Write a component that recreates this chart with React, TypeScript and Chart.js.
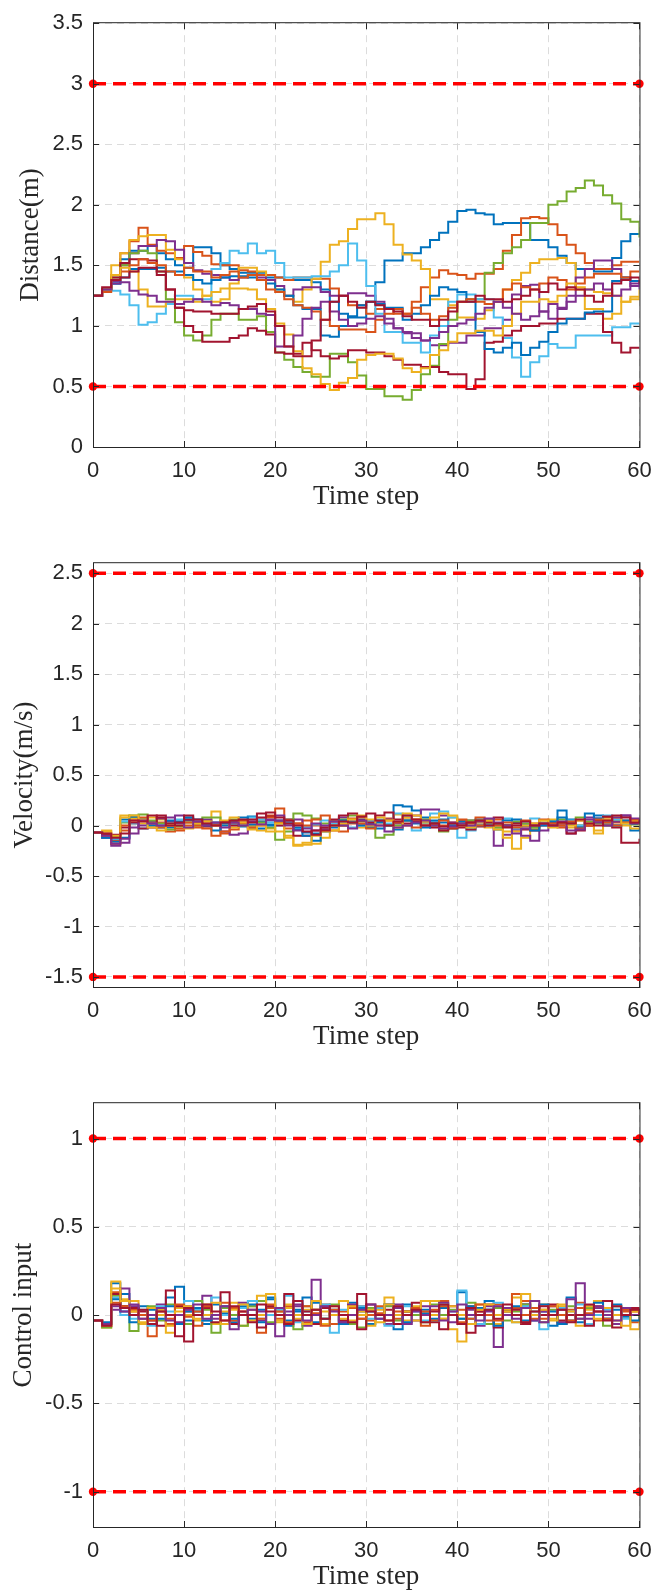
import React, { useEffect, useRef } from "react";
import { Chart, registerables } from "chart.js";

Chart.register(...registerables);

// ---------------- categories / ticks ----------------
const timeSteps = [
  0, 1, 2, 3, 4, 5, 6, 7, 8, 9, 10, 11, 12, 13, 14, 15, 16, 17, 18, 19, 20,
  21, 22, 23, 24, 25, 26, 27, 28, 29, 30, 31, 32, 33, 34, 35, 36, 37, 38, 39,
  40, 41, 42, 43, 44, 45, 46, 47, 48, 49, 50, 51, 52, 53, 54, 55, 56, 57, 58,
  59, 60,
];
const xTicks = [0, 10, 20, 30, 40, 50, 60];
const distanceTicks = [0, 0.5, 1, 1.5, 2, 2.5, 3, 3.5];
const velocityTicks = [-1.5, -1, -0.5, 0, 0.5, 1, 1.5, 2, 2.5];
const controlTicks = [-1, -0.5, 0, 0.5, 1];
const distanceBounds = [3, 0.5];
const velocityBounds = [2.5, -1.5];
const controlBounds = [1, -1];

// ---------------- colours ----------------
const cBlue = "#0072BD";
const cOrange = "#D95319";
const cYellow = "#EDB120";
const cPurple = "#7E2F8E";
const cGreen = "#77AC30";
const cLightBlue = "#4DBEEE";
const cDarkRed = "#A2142F";
const seriesColors = [cBlue, cOrange, cYellow, cPurple, cGreen, cLightBlue, cDarkRed, cBlue, cOrange, cYellow, cPurple, cDarkRed];

// ---------------- distance ----------------
const distBlue1 = [
  1.25, 1.3, 1.35, 1.55, 1.62, 1.62, 1.66, 1.6, 1.55, 1.5,
  1.48, 1.65, 1.65, 1.6, 1.5, 1.47, 1.44, 1.44, 1.44, 1.4,
  1.4, 1.38, 1.38, 1.38, 1.36, 1.3, 1.2, 1.1, 1.07, 1.07,
  1.2, 1.36, 1.54, 1.54, 1.6, 1.6, 1.65, 1.71, 1.77, 1.86,
  1.95, 1.96, 1.93, 1.92, 1.84, 1.85, 1.85, 1.85, 1.71, 1.71,
  1.65, 1.58, 1.52, 1.47, 1.47, 1.45, 1.45, 1.56, 1.7, 1.76,
  1.76,
];
const distOrange1 = [
  1.25, 1.3, 1.42, 1.6, 1.7, 1.81, 1.67, 1.62, 1.6, 1.56,
  1.66, 1.61, 1.58, 1.51, 1.5, 1.5, 1.46, 1.45, 1.42, 1.42,
  1.4, 1.38, 1.4, 1.4, 1.39, 1.39, 1.31, 1.25, 1.17, 1.17,
  1.1, 1.14, 1.14, 1.1, 1.1, 1.2, 1.32, 1.4, 1.46, 1.43,
  1.42, 1.39, 1.43, 1.43, 1.47, 1.62, 1.75, 1.89, 1.9, 1.89,
  1.84, 1.75, 1.67, 1.6, 1.52, 1.47, 1.47, 1.5, 1.53, 1.53,
  1.53,
];
const distYellow1 = [
  1.25, 1.3, 1.5, 1.6, 1.71, 1.74, 1.75, 1.75, 1.63, 1.55,
  1.4, 1.3, 1.25, 1.2, 1.22, 1.35, 1.48, 1.48, 1.45, 1.38,
  1.3, 1.25, 1.2, 1.3, 1.39, 1.53, 1.67, 1.7, 1.8, 1.88,
  1.88, 1.93, 1.84, 1.67, 1.59, 1.54, 1.47, 1.22, 1.22, 1.17,
  1.07, 1.07, 1.06, 1.13, 1.2, 1.3, 1.38, 1.44, 1.52, 1.55,
  1.55, 1.56, 1.52, 1.3, 1.14, 1.14, 1.06, 1.1, 1.2, 1.24,
  1.24,
];
const distPurple1 = [
  1.25, 1.3, 1.37, 1.5, 1.6, 1.66, 1.66, 1.71, 1.7, 1.63,
  1.52, 1.46, 1.43, 1.42, 1.4, 1.38, 1.4, 1.42, 1.4, 1.38,
  1.33, 1.25, 1.3, 1.32, 1.32, 1.28, 1.25, 1.25, 1.27, 1.27,
  1.25, 1.2, 1.06, 0.98, 0.94, 0.94, 0.88, 0.84, 0.84, 0.86,
  0.86, 0.92, 0.92, 0.98, 0.98, 1.05, 1.26, 1.33, 1.34, 1.12,
  1.06, 1.14, 1.25, 1.4, 1.47, 1.54, 1.54, 1.47, 1.4, 1.33,
  1.38,
];
const distGreen1 = [
  1.25, 1.3, 1.4, 1.5, 1.6, 1.62, 1.6, 1.45, 1.22, 1.03,
  0.92, 0.88, 0.92, 1.05, 1.1, 1.1, 1.05, 1.05, 1.08, 0.95,
  0.78, 0.72, 0.66, 0.62, 0.58, 0.58, 0.77, 0.77, 0.7, 0.59,
  0.48, 0.48, 0.42, 0.42, 0.39, 0.47, 0.6, 0.67, 0.85, 1.05,
  1.2, 1.22, 1.22, 1.44, 1.52, 1.6, 1.65, 1.71, 1.85, 1.85,
  2.0, 2.03, 2.11, 2.14, 2.2, 2.16, 2.08, 2.01, 1.88, 1.86,
  1.73,
];
const distLightBlue1 = [
  1.25, 1.29, 1.29, 1.26, 1.17, 1.01, 1.03, 1.1, 1.18, 1.25,
  1.25, 1.22, 1.22, 1.47, 1.52, 1.62, 1.6, 1.68, 1.6, 1.62,
  1.52, 1.4, 1.4, 1.4, 1.41, 1.41, 1.45, 1.5, 1.68, 1.54,
  1.33, 1.1, 0.95, 0.95, 0.86, 0.86, 0.78, 0.92, 1.0, 1.2,
  1.26, 1.26, 1.22, 1.22, 1.07, 0.9, 0.74, 0.58, 0.7, 0.75,
  0.85, 0.82, 0.82, 0.92, 0.92, 0.92, 0.92, 0.99, 0.99, 1.02,
  1.02,
];
const distDarkRed1 = [
  1.25, 1.3, 1.4, 1.52, 1.55, 1.55, 1.54, 1.42, 1.3, 1.15,
  1.0, 0.95, 0.87, 0.87, 0.87, 0.9, 0.92, 0.98, 0.96, 0.93,
  0.78, 0.77, 0.77, 0.86, 0.8, 0.75, 0.73, 0.75, 0.8, 0.8,
  0.78, 0.78, 0.75, 0.72, 0.68, 0.68, 0.66, 0.66, 0.62, 0.6,
  0.6, 0.48, 0.56, 0.86, 0.87, 0.92, 0.96, 1.0, 1.0, 1.02,
  1.02, 1.06, 1.06, 1.06, 1.1, 1.1, 0.95, 0.86, 0.78, 0.82,
  0.82,
];
const distBlue2 = [
  1.25, 1.3, 1.35, 1.4, 1.47, 1.47, 1.47, 1.48, 1.45, 1.45,
  1.42, 1.38, 1.35, 1.38, 1.4, 1.41, 1.41, 1.4, 1.38, 1.35,
  1.3, 1.25, 1.17, 1.14, 1.14, 0.92, 0.91, 1.0, 1.08, 1.17,
  1.2, 1.18, 1.15, 1.15, 1.05, 1.1, 1.17, 1.25, 1.32, 1.3,
  1.28, 1.2, 0.95, 0.81, 0.78, 0.82, 0.86, 0.76, 0.82, 0.87,
  0.95, 1.02, 1.06, 1.06, 1.11, 1.12, 1.12, 1.37, 1.4, 1.37,
  1.37,
];
const distOrange2 = [
  1.25, 1.28, 1.38, 1.45, 1.5, 1.55, 1.52, 1.5, 1.45, 1.42,
  1.48, 1.45, 1.45, 1.4, 1.42, 1.45, 1.4, 1.42, 1.38, 1.3,
  1.28, 1.22, 1.17, 1.15, 1.12, 1.05, 1.0, 0.97, 0.97, 0.97,
  0.95, 1.05, 1.1, 1.14, 1.1, 1.15, 1.1, 1.05, 1.08, 1.15,
  1.2, 1.22, 1.2, 1.18, 1.2, 1.3, 1.35, 1.32, 1.3, 1.35,
  1.4, 1.38, 1.3, 1.35, 1.4, 1.43, 1.43, 1.43, 1.4, 1.45,
  1.45,
];
const distYellow2 = [
  1.25, 1.3, 1.42, 1.48, 1.45, 1.3, 1.16, 1.16, 1.2, 1.22,
  1.22, 1.2, 1.25, 1.28, 1.31, 1.31, 1.31, 1.3, 1.22, 1.14,
  1.02, 0.93, 0.79, 0.65, 0.6, 0.52, 0.47, 0.53, 0.57, 0.72,
  0.76, 0.77, 0.77, 0.73, 0.65, 0.62, 0.65, 0.76, 0.8, 0.87,
  0.94, 0.94, 0.96, 0.96, 0.92, 1.0, 1.1, 1.2, 1.2, 1.22,
  1.2, 1.25, 1.35, 1.32, 1.3, 1.28, 1.27, 1.25, 1.2, 1.22,
  1.3,
];
const distPurple2 = [
  1.25, 1.3, 1.35, 1.36, 1.29, 1.26, 1.25, 1.2, 1.2, 1.18,
  1.2, 1.22, 1.2, 1.17, 1.19, 1.17, 1.14, 1.14, 1.1, 1.09,
  0.83, 0.83, 0.92, 1.06, 1.15, 1.2, 1.12, 1.05, 1.0, 1.02,
  1.06, 1.08, 1.02, 0.98, 0.95, 0.9, 0.88, 0.9, 0.95, 1.0,
  1.02, 1.05, 1.1, 1.15, 1.2, 1.15, 1.1, 1.05, 1.08, 1.12,
  1.18, 1.15, 1.2, 1.25, 1.3, 1.35, 1.3, 1.25, 1.3, 1.35,
  1.3,
];
const distDarkRed2 = [
  1.25, 1.32, 1.38, 1.4, 1.45, 1.48, 1.48, 1.45, 1.3, 1.15,
  1.13, 1.12, 1.12, 1.1, 1.1, 1.1, 1.14, 1.16, 1.18, 1.12,
  1.0, 0.83, 0.75, 0.75, 0.88, 1.05, 1.2, 1.25, 1.2, 1.15,
  1.2, 1.17, 1.14, 1.12, 1.08, 1.05, 1.05, 1.0, 1.05, 1.12,
  1.2, 1.2, 1.25, 1.22, 1.22, 1.2, 1.22, 1.25, 1.3, 1.28,
  1.35, 1.3, 1.32, 1.3, 1.25, 1.2, 1.25, 1.35, 1.38, 1.4,
  1.35,
];

// ---------------- velocity ----------------
const velBlue1 = [
  -0.07, -0.1, -0.14, 0.06, 0.08, 0.05, 0.02, 0.0, -0.02, 0.03,
  0.05, 0.02, 0.01, 0.03, 0.0, 0.02, -0.01, 0.09, 0.04, 0.01,
  0.04, 0.06, -0.02, -0.07, -0.08, -0.04, -0.02, 0.0, 0.04, 0.06,
  0.02, -0.03, 0.0, 0.2, 0.19, 0.15, 0.08, 0.05, 0.03, 0.0,
  0.02, 0.04, 0.06, 0.01, -0.04, 0.0, 0.03, 0.0, -0.02, 0.01,
  0.03, 0.15, 0.06, 0.0, 0.03, 0.1, 0.05, 0.0, 0.02, -0.05,
  -0.02,
];
const velOrange1 = [
  -0.07, -0.08, -0.15, -0.05, 0.02, 0.06, 0.04, 0.03, -0.06, -0.05,
  0.0, -0.02, 0.02, 0.0, -0.08, -0.04, 0.02, 0.04, 0.06, 0.1,
  0.17, 0.06, 0.02, 0.05, 0.0, -0.02, -0.05, -0.06, 0.02, 0.08,
  0.05, 0.04, 0.07, 0.03, 0.08, 0.06, 0.04, 0.02, 0.0, 0.03,
  0.05, 0.02, 0.08, 0.04, 0.06, 0.0, -0.04, -0.01, 0.0, 0.02,
  0.0, -0.02, 0.03, 0.05, 0.0, 0.04, 0.08, 0.03, 0.05, 0.06,
  0.02,
];
const velYellow1 = [
  -0.07, -0.06, -0.12, 0.1, 0.07, 0.02, 0.08, 0.06, 0.03, 0.0,
  -0.02, 0.03, 0.05, 0.14, 0.02, -0.02, 0.03, 0.0, -0.05, -0.03,
  -0.06, -0.1, -0.19, -0.19, -0.18, -0.12, -0.05, 0.0, 0.03, -0.02,
  0.06, 0.03, 0.0, 0.11, 0.08, 0.06, 0.02, 0.0, -0.04, 0.08,
  0.03, 0.0, 0.05, -0.02, 0.0, -0.06, -0.23, -0.12, -0.04, 0.02,
  0.06, 0.03, -0.02, 0.0, 0.03, -0.08, 0.01, 0.05, 0.0, -0.03,
  -0.02,
];
const velPurple1 = [
  -0.07, -0.12, -0.2, -0.17, -0.08, 0.0, 0.04, 0.07, 0.04, 0.1,
  0.06, 0.02, 0.06, 0.0, -0.06, -0.09, -0.08, -0.03, 0.01, 0.05,
  0.1, 0.04, 0.06, -0.02, -0.05, -0.04, 0.02, 0.08, 0.06, 0.01,
  -0.02, 0.04, 0.06, 0.02, 0.05, 0.1, 0.16, 0.16, 0.1, 0.03,
  0.0, 0.05, 0.03, 0.0, -0.2, -0.09, -0.04, -0.1, -0.15, -0.05,
  0.02, 0.0, -0.08, -0.02, 0.08, 0.07, 0.0, 0.04, 0.1, 0.07,
  0.04,
];
const velGreen1 = [
  -0.07, -0.09, -0.11, 0.03, 0.1, 0.11, 0.05, 0.02, -0.04, -0.01,
  0.03, 0.0, 0.08, 0.08, 0.03, 0.06, 0.0, -0.02, 0.03, -0.02,
  -0.14, -0.06, 0.12, 0.1, 0.07, 0.02, 0.05, 0.06, 0.1, 0.04,
  -0.02, -0.12, -0.09, 0.0, 0.05, 0.03, 0.06, 0.0, -0.06, -0.03,
  0.02, 0.05, 0.0, 0.03, -0.02, 0.0, 0.04, 0.02, -0.02, 0.05,
  0.04, 0.06, 0.02, 0.08, 0.04, 0.02, 0.0, 0.06, 0.03, 0.01,
  0.02,
];
const velLightBlue1 = [
  -0.07, -0.11, -0.13, 0.04, 0.02, -0.03, 0.01, 0.0, 0.02, 0.06,
  0.08, 0.03, 0.0, 0.02, 0.04, 0.01, 0.05, 0.08, 0.06, 0.03,
  0.0, 0.03, -0.04, -0.02, 0.01, 0.05, 0.02, 0.03, -0.02, 0.0,
  0.04, 0.06, 0.02, 0.12, 0.1, -0.05, 0.03, 0.12, 0.14, 0.08,
  -0.12, -0.05, 0.03, 0.0, 0.02, 0.07, -0.03, 0.04, 0.07, 0.02,
  -0.01, 0.03, 0.05, 0.0, 0.02, 0.05, 0.1, 0.06, 0.02, 0.03,
  0.04,
];
const velDarkRed1 = [
  -0.07, -0.09, -0.09, -0.02, 0.03, -0.03, -0.02, 0.1, 0.02, 0.0,
  0.06, 0.03, -0.01, 0.01, 0.04, 0.0, 0.03, 0.06, 0.12, 0.09,
  0.0, 0.05, -0.1, -0.1, -0.05, -0.02, 0.06, 0.1, 0.12, 0.05,
  0.03, 0.1, 0.13, 0.06, 0.02, 0.04, 0.0, -0.02, -0.05, -0.03,
  -0.02, -0.04, -0.01, 0.03, 0.08, 0.0, 0.02, -0.04, -0.05, 0.0,
  0.03, 0.02, -0.08, -0.05, 0.0, 0.05, 0.09, -0.02, -0.17, -0.17,
  -0.13,
];
const velBlue2 = [
  -0.07, -0.12, -0.16, -0.12, 0.09, 0.07, 0.0, -0.02, 0.05, 0.04,
  0.08, 0.06, 0.0, -0.05, 0.02, 0.04, 0.08, 0.01, -0.03, 0.0,
  0.05, 0.02, -0.04, -0.1, -0.15, -0.06, 0.0, 0.05, 0.03, 0.0,
  -0.02, 0.03, 0.0, -0.04, 0.05, 0.02, -0.02, 0.03, 0.06, 0.0,
  0.04, -0.02, 0.0, 0.06, 0.02, 0.05, 0.06, 0.0, -0.05, 0.0,
  0.04, 0.08, 0.02, -0.02, 0.12, 0.07, 0.03, 0.0, 0.05, 0.02,
  0.02,
];
const velOrange2 = [
  -0.07, -0.1, -0.18, 0.0, 0.05, 0.08, 0.02, -0.02, 0.0, -0.03,
  0.03, 0.0, -0.03, -0.1, -0.06, 0.03, 0.05, -0.02, 0.0, 0.08,
  0.03, -0.03, 0.02, 0.0, 0.06, 0.1, 0.04, 0.0, 0.07, 0.02,
  -0.03, 0.0, 0.05, 0.03, 0.0, -0.02, 0.04, 0.02, 0.05, -0.02,
  0.06, 0.03, 0.0, 0.05, 0.0, 0.03, -0.02, 0.05, 0.02, 0.06,
  0.02, 0.0, 0.04, -0.03, 0.0, 0.06, 0.03, 0.0, 0.03, 0.05,
  0.03,
];
const velYellow2 = [
  -0.07, -0.05, -0.1, 0.08, 0.1, 0.06, -0.02, -0.05, 0.0, 0.02,
  -0.03, 0.02, 0.04, 0.0, 0.05, 0.08, 0.03, -0.04, 0.0, -0.06,
  0.02, -0.12, -0.2, -0.17, -0.1, -0.06, 0.0, 0.02, 0.06, 0.1,
  0.0, 0.08, 0.05, -0.02, 0.12, 0.1, 0.04, 0.08, 0.12, 0.1,
  0.0, -0.02, 0.03, 0.05, -0.04, -0.12, -0.06, 0.0, 0.02, 0.05,
  -0.02, 0.03, 0.0, 0.05, 0.02, -0.05, 0.06, 0.08, 0.02, 0.04,
  0.0,
];
const velPurple2 = [
  -0.07, -0.1, -0.18, -0.13, -0.02, 0.05, 0.02, 0.0, 0.08, 0.02,
  -0.02, 0.04, 0.0, 0.03, -0.02, 0.03, 0.0, 0.04, 0.01, 0.06,
  0.05, 0.0, -0.05, -0.03, 0.02, 0.0, 0.04, 0.0, -0.03, 0.05,
  0.01, 0.0, -0.06, -0.02, 0.0, 0.03, 0.05, 0.0, -0.03, -0.01,
  0.02, 0.0, 0.04, 0.07, 0.03, 0.0, -0.08, -0.03, 0.0, 0.02,
  0.0, 0.04, -0.05, -0.04, 0.06, 0.03, 0.0, 0.08, 0.1, 0.02,
  0.06,
];
const velDarkRed2 = [
  -0.07, -0.08, -0.12, -0.08, 0.05, 0.04, 0.1, 0.08, 0.0, 0.03,
  0.1, 0.06, 0.02, 0.0, 0.03, 0.05, 0.06, 0.03, 0.08, 0.13,
  0.08, 0.02, 0.0, -0.06, -0.09, -0.05, 0.0, 0.04, 0.03, 0.09,
  0.12, 0.05, 0.0, 0.04, 0.1, 0.06, 0.0, 0.02, -0.01, 0.02,
  0.0, 0.03, 0.05, 0.0, 0.02, -0.02, 0.0, 0.04, 0.0, 0.02,
  0.0, 0.03, 0.02, 0.06, 0.02, 0.0, 0.05, 0.1, 0.08, 0.03,
  0.05,
];

// ---------------- control input ----------------
const ctrlBlue1 = [
  -0.03, -0.05, 0.18, 0.12, 0.0, 0.05, -0.02, 0.03, 0.1, 0.16,
  -0.03, 0.02, -0.05, 0.06, 0.01, -0.04, 0.05, -0.02, 0.03, 0.09,
  0.0, -0.06, 0.03, 0.1, -0.04, 0.05, 0.0, -0.03, 0.07, 0.02,
  -0.05, 0.04, 0.0, -0.08, 0.06, 0.0, 0.03, -0.02, 0.05, 0.0,
  0.13, -0.02, 0.04, 0.08, -0.05, 0.03, 0.0, 0.06, -0.03, 0.02,
  -0.06, 0.04, 0.1, -0.04, 0.05, 0.0, -0.02, 0.06, -0.01, 0.03,
  0.02,
];
const ctrlOrange1 = [
  -0.03, -0.06, 0.13, 0.04, 0.03, -0.02, -0.12, 0.02, -0.05, 0.05,
  0.02, -0.06, 0.04, 0.0, 0.07, -0.03, 0.02, 0.0, -0.1, 0.04,
  -0.02, 0.05, 0.0, -0.04, 0.03, 0.06, -0.05, 0.02, 0.0, 0.05,
  -0.03, 0.01, 0.06, -0.02, 0.0, 0.04, -0.06, 0.03, 0.08, 0.0,
  -0.04, 0.05, 0.02, -0.03, 0.06, 0.0, 0.04, 0.08, -0.02, 0.03,
  0.0, -0.05, 0.03, 0.07, 0.0, -0.03, 0.04, 0.0, 0.02, -0.04,
  0.0,
];
const ctrlYellow1 = [
  -0.03, -0.07, 0.19, 0.09, 0.08, -0.05, 0.0, 0.03, -0.1, 0.04,
  0.0, -0.03, 0.06, -0.05, 0.02, 0.07, -0.06, 0.05, 0.11, 0.0,
  -0.04, 0.06, -0.02, 0.03, 0.0, -0.05, 0.05, 0.08, -0.03, 0.02,
  -0.06, 0.03, 0.1, 0.0, -0.03, 0.05, 0.0, 0.08, -0.02, -0.08,
  -0.15, 0.04, 0.06, 0.0, -0.05, 0.03, 0.1, -0.04, 0.02, 0.06,
  -0.02, 0.05, 0.0, -0.06, 0.03, 0.08, 0.0, -0.03, 0.04, -0.08,
  0.0,
];
const ctrlPurple1 = [
  -0.03, -0.05, 0.03, 0.15, 0.05, 0.0, -0.03, 0.06, 0.0, -0.04,
  0.05, 0.0, 0.11, -0.02, 0.04, -0.05, 0.07, 0.0, -0.03, 0.05,
  -0.12, 0.02, 0.05, -0.06, 0.2, 0.04, 0.0, -0.04, 0.06, -0.02,
  0.03, 0.0, -0.05, 0.06, 0.02, -0.03, 0.05, 0.0, 0.07, -0.04,
  0.0, 0.03, -0.06, 0.05, -0.18, 0.04, 0.0, 0.06, -0.03, 0.02,
  0.05, -0.04, 0.0, 0.18, -0.02, 0.04, 0.0, -0.05, 0.03, 0.0,
  0.02,
];
const ctrlGreen1 = [
  -0.03, -0.07, 0.11, 0.05, -0.09, 0.0, 0.05, -0.03, 0.06, 0.0,
  -0.05, 0.08, 0.03, -0.1, 0.04, 0.0, -0.06, 0.05, 0.08, -0.04,
  0.02, 0.0, -0.08, 0.05, 0.03, -0.02, 0.06, 0.0, -0.05, -0.07,
  0.04, 0.0, 0.05, -0.03, 0.02, 0.0, -0.04, 0.06, 0.0, 0.03,
  -0.02, 0.07, 0.0, -0.05, 0.04, -0.03, 0.02, 0.06, 0.0, -0.04,
  0.03, 0.0, 0.05, -0.02, 0.04, 0.0, -0.06, 0.05, 0.0, 0.03,
  0.01,
];
const ctrlLightBlue1 = [
  -0.03, -0.05, 0.1, 0.0, -0.02, 0.03, -0.06, 0.05, 0.02, 0.0,
  0.08, 0.03, -0.03, 0.1, 0.0, -0.05, 0.04, 0.08, -0.02, 0.0,
  0.03, 0.11, -0.04, 0.02, 0.0, 0.06, -0.1, 0.03, 0.0, 0.05,
  -0.02, 0.04, -0.06, 0.0, 0.05, 0.02, -0.03, 0.0, 0.06, 0.02,
  0.14, 0.0, -0.05, 0.03, 0.07, 0.0, -0.04, 0.05, 0.02, -0.08,
  0.0, 0.04, 0.02, 0.06, -0.05, 0.0, 0.03, 0.05, -0.02, 0.0,
  0.02,
];
const ctrlDarkRed1 = [
  -0.03, -0.06, 0.12, 0.05, 0.04, 0.02, 0.0, -0.06, 0.14, 0.05,
  -0.15, 0.0, 0.04, -0.04, 0.13, -0.05, 0.02, 0.0, -0.07, 0.05,
  0.0, 0.12, -0.03, 0.02, -0.05, 0.04, 0.0, -0.03, 0.05, -0.08,
  0.06, 0.0, 0.03, -0.05, 0.02, 0.07, 0.0, -0.04, -0.08, 0.05,
  0.0, -0.1, 0.02, 0.06, -0.07, 0.0, 0.03, -0.05, 0.04, 0.0,
  0.06, -0.03, 0.0, 0.04, -0.06, 0.02, 0.08, -0.07, 0.0, 0.04,
  0.01,
];
const ctrlBlue2 = [
  -0.03, -0.04, 0.09, 0.02, -0.04, 0.0, 0.03, -0.02, 0.05, -0.05,
  0.02, 0.04, -0.03, 0.0, 0.05, -0.02, 0.0, 0.06, -0.04, 0.1,
  0.04, -0.03, 0.02, 0.0, 0.07, -0.02, 0.03, -0.05, 0.0, 0.04,
  0.02, -0.02, 0.06, 0.0, -0.04, 0.03, 0.01, -0.03, 0.04, 0.0,
  -0.02, 0.05, 0.0, 0.03, -0.06, 0.02, 0.05, -0.03, 0.0, 0.06,
  0.02, -0.05, -0.03, 0.04, 0.0, 0.07, -0.02, 0.03, 0.0, -0.03,
  0.01,
];
const ctrlOrange2 = [
  -0.03, -0.05, 0.07, 0.05, 0.02, 0.0, -0.03, 0.04, -0.02, 0.06,
  -0.01, 0.02, 0.05, 0.0, -0.03, 0.04, 0.0, 0.03, -0.02, 0.06,
  0.02, -0.04, 0.0, 0.05, 0.01, -0.06, 0.03, 0.0, 0.04, -0.02,
  0.0, 0.05, -0.03, 0.02, 0.0, 0.04, 0.02, -0.03, 0.05, 0.0,
  0.03, -0.02, 0.06, 0.0, -0.03, 0.02, 0.12, 0.0, 0.04, -0.02,
  0.05, 0.0, -0.03, 0.04, 0.01, 0.05, -0.02, 0.0, 0.03, 0.02,
  0.0,
];
const ctrlYellow2 = [
  -0.03, -0.06, 0.15, 0.08, 0.02, -0.04, 0.04, 0.0, -0.06, 0.02,
  0.05, -0.02, 0.0, 0.07, -0.05, 0.03, 0.06, -0.03, 0.0, 0.12,
  -0.03, 0.04, 0.0, -0.05, 0.08, 0.02, 0.0, -0.02, 0.05, 0.0,
  0.03, -0.04, 0.06, 0.0, 0.02, -0.03, 0.08, 0.0, -0.02, 0.05,
  0.0, -0.05, 0.03, 0.06, 0.0, 0.02, -0.04, 0.12, 0.0, 0.03,
  -0.03, 0.06, 0.02, 0.0, 0.05, -0.02, 0.04, 0.0, -0.06, 0.02,
  -0.01,
];
const ctrlPurple2 = [
  -0.03, -0.05, 0.05, 0.02, 0.06, -0.02, 0.0, 0.04, -0.03, 0.0,
  0.03, 0.06, -0.02, 0.0, 0.05, -0.08, 0.0, 0.03, 0.02, -0.05,
  0.04, 0.0, 0.06, -0.03, 0.0, 0.05, 0.02, -0.04, 0.0, 0.03,
  0.06, -0.02, 0.0, 0.04, -0.05, 0.02, 0.0, 0.05, -0.03, 0.02,
  0.06, 0.0, -0.03, 0.02, 0.05, 0.0, -0.02, 0.04, 0.08, -0.04,
  0.0, 0.03, 0.09, -0.02, 0.0, 0.05, 0.02, -0.03, 0.04, 0.0,
  0.02,
];
const ctrlDarkRed2 = [
  -0.03, -0.06, 0.06, 0.04, 0.0, 0.03, -0.05, 0.02, 0.0, -0.12,
  0.04, 0.0, 0.06, 0.02, -0.03, 0.05, 0.0, -0.04, 0.06, 0.02,
  0.0, -0.05, 0.08, 0.0, 0.03, -0.02, 0.05, 0.0, -0.04, 0.12,
  0.02, 0.0, -0.03, 0.05, 0.0, 0.03, -0.04, 0.02, 0.06, 0.0,
  -0.05, 0.04, 0.0, 0.03, -0.02, 0.06, 0.0, -0.04, 0.02, 0.05,
  0.0, 0.03, -0.04, 0.0, 0.06, 0.02, -0.03, 0.05, 0.0, 0.03,
  0.0,
];

const distanceSeries = [distBlue1, distOrange1, distYellow1, distPurple1, distGreen1, distLightBlue1, distDarkRed1, distBlue2, distOrange2, distYellow2, distPurple2, distDarkRed2];
const velocitySeries = [velBlue1, velOrange1, velYellow1, velPurple1, velGreen1, velLightBlue1, velDarkRed1, velBlue2, velOrange2, velYellow2, velPurple2, velDarkRed2];
const controlSeries = [ctrlBlue1, ctrlOrange1, ctrlYellow1, ctrlPurple1, ctrlGreen1, ctrlLightBlue1, ctrlDarkRed1, ctrlBlue2, ctrlOrange2, ctrlYellow2, ctrlPurple2, ctrlDarkRed2];

// ---------------- styling ----------------
const TICK_FONT = "'Liberation Sans', Arial, Helvetica, sans-serif";
const TITLE_FONT = "'Liberation Serif', 'Times New Roman', serif";
const TEXT_COLOR = "#262626";
const GRID_COLOR = "#dcdcdc";
const AREA_TOP = 17;
const AREA_BOTTOM = 447;
const AREA_LEFT = 93;
const AREA_RIGHT_PAD = 14;

const matlabAxesPlugin = {
  id: "matlabAxes",
  afterDraw(chart: any) {
    const { ctx, chartArea } = chart;
    const { left, right, top, bottom } = chartArea;
    const xs = chart.scales.x;
    const ys = chart.scales.y;
    const tl = 6;
    ctx.save();
    ctx.strokeStyle = TEXT_COLOR;
    ctx.lineWidth = 1;
    ctx.beginPath();
    for (const t of xs.ticks) {
      const px = Math.round(xs.getPixelForValue(t.value)) + 0.5;
      ctx.moveTo(px, bottom);
      ctx.lineTo(px, bottom - tl);
      ctx.moveTo(px, top);
      ctx.lineTo(px, top + tl);
    }
    for (const t of ys.ticks) {
      const py = Math.round(ys.getPixelForValue(t.value)) + 0.5;
      ctx.moveTo(left, py);
      ctx.lineTo(left + tl, py);
      ctx.moveTo(right, py);
      ctx.lineTo(right - tl, py);
    }
    ctx.stroke();
    ctx.strokeRect(left + 0.5, top - 0.5, right - left, bottom - top + 1);
    ctx.restore();
  },
};

type PanelCfg = {
  top: number;
  height: number;
  series: number[][];
  yMin: number;
  yMax: number;
  yTicks: number[];
  bounds: number[];
  yTitle: string;
  yTitlePad: number;
  xTitlePad: number;
};

const panels: PanelCfg[] = [
  { top: 0, height: 540, series: distanceSeries, yMin: 0, yMax: 3.5, yTicks: distanceTicks, bounds: distanceBounds, yTitle: "Distance(m)", yTitlePad: 14.7, xTitlePad: 26.5 },
  { top: 540, height: 540, series: velocitySeries, yMin: -1.6, yMax: 2.6, yTicks: velocityTicks, bounds: velocityBounds, yTitle: "Velocity(m/s)", yTitlePad: 9.2, xTitlePad: 26.5 },
  { top: 1080, height: 513, series: controlSeries, yMin: -1.2, yMax: 1.2, yTicks: controlTicks, bounds: controlBounds, yTitle: "Control input", yTitlePad: 8.0, xTitlePad: -0.5 },
];

function Panel({ cfg }: { cfg: PanelCfg }) {
  const ref = useRef<HTMLCanvasElement>(null);
  useEffect(() => {
    const canvas = ref.current;
    if (!canvas) return;
    const n = cfg.series.length;
    const datasets: any[] = cfg.series.map((vals, k) => ({
      data: vals.map((v, i) => ({ x: timeSteps[i], y: v })),
      borderColor: seriesColors[k],
      backgroundColor: seriesColors[k],
      borderWidth: 2,
      stepped: true,
      pointRadius: 0,
      pointHoverRadius: 0,
      fill: false,
      order: n - k + 1,
    }));
    cfg.bounds.forEach((b) => {
      datasets.push({
        data: [
          { x: timeSteps[0], y: b },
          { x: timeSteps[timeSteps.length - 1], y: b },
        ],
        borderColor: "#ff0000",
        backgroundColor: "#ff0000",
        borderWidth: 3.5,
        borderDash: [13, 7],
        pointRadius: 4.2,
        pointHoverRadius: 4.2,
        pointBackgroundColor: "#ff0000",
        pointBorderWidth: 0,
        fill: false,
        clip: false,
        order: 0,
      });
    });
    const chart = new Chart(canvas, {
      type: "line",
      data: { datasets },
      options: {
        animation: false,
        responsive: false,
        devicePixelRatio: 1,
        events: [],
        layout: { padding: { top: AREA_TOP, right: AREA_RIGHT_PAD, left: 0, bottom: 0 } },
        plugins: { legend: { display: false }, tooltip: { enabled: false } },
        scales: {
          x: {
            type: "linear",
            min: 0,
            max: 60,
            afterBuildTicks: (axis: any) => {
              axis.ticks = xTicks.map((v) => ({ value: v }));
            },
            afterFit: (axis: any) => {
              axis.height = cfg.height - AREA_BOTTOM;
            },
            grid: { color: GRID_COLOR, lineWidth: 1, drawTicks: false },
            border: { display: false, dash: [7, 5] },
            ticks: {
              padding: 10.3,
              color: TEXT_COLOR,
              font: { family: TICK_FONT, size: 22 },
              maxRotation: 0,
              autoSkip: false,
              callback: (v: any) => String(v),
            },
            title: {
              display: true,
              text: "Time step",
              color: TEXT_COLOR,
              font: { family: TITLE_FONT, size: 27 },
              padding: { top: 0, bottom: cfg.xTitlePad },
            },
          },
          y: {
            type: "linear",
            min: cfg.yMin,
            max: cfg.yMax,
            afterBuildTicks: (axis: any) => {
              axis.ticks = cfg.yTicks.map((v) => ({ value: v }));
            },
            afterFit: (axis: any) => {
              axis.width = AREA_LEFT;
            },
            grid: { color: GRID_COLOR, lineWidth: 1, drawTicks: false },
            border: { display: false, dash: [7, 5] },
            ticks: {
              padding: 10,
              color: TEXT_COLOR,
              font: { family: TICK_FONT, size: 22 },
              autoSkip: false,
              callback: (v: any) => String(v),
            },
            title: {
              display: true,
              text: cfg.yTitle,
              color: TEXT_COLOR,
              font: { family: TITLE_FONT, size: 27 },
              padding: { top: cfg.yTitlePad, bottom: 0 },
            },
          },
        },
      } as any,
      plugins: [matlabAxesPlugin],
    });
    return () => chart.destroy();
  }, [cfg]);
  return (
    <canvas
      ref={ref}
      width={662}
      height={cfg.height}
      style={{ position: "absolute", left: 0, top: cfg.top, width: 662, height: cfg.height, display: "block" }}
    />
  );
}

export default function App() {
  return (
    <div style={{ position: "absolute", left: 0, top: 0, width: 662, height: 1593, background: "#ffffff", overflow: "hidden" }}>
      {panels.map((p, i) => (
        <Panel key={i} cfg={p} />
      ))}
    </div>
  );
}
